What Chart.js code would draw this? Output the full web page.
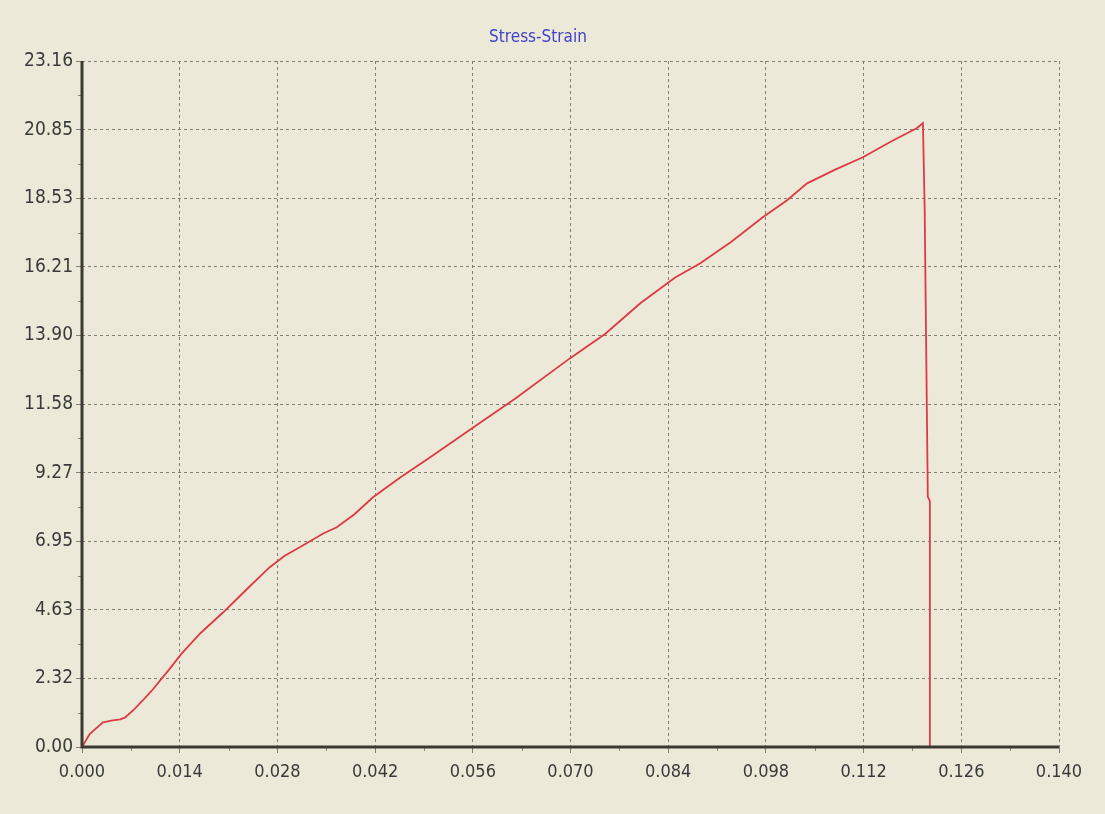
<!DOCTYPE html>
<html>
<head>
<meta charset="utf-8">
<title>Stress-Strain</title>
<script src="https://cdn.jsdelivr.net/npm/chart.js@4/dist/chart.umd.min.js"></script>
<style>
    html, body { margin: 0; padding: 0; background: #ece9d8; }
    #wrap { width: 1105px; height: 814px; position: relative; }
</style>
</head>
<body>
<div id="wrap"><canvas id="stressChart" width="1105" height="814"></canvas></div>
<script>
// Stress-strain curve, values
const strain = [
    0, 0.0011, 0.0030, 0.0044, 0.0055, 0.0062, 0.0075, 0.0087, 0.0100, 0.0112,
    0.0125, 0.0143, 0.0170, 0.0202, 0.0235, 0.0269, 0.0290, 0.0317, 0.0345, 0.0365,
    0.0390, 0.0417, 0.0456, 0.0500, 0.0559, 0.0620, 0.0699, 0.0750, 0.0800, 0.0850,
    0.0886, 0.0930, 0.0976, 0.1010, 0.1039, 0.1080, 0.1119, 0.1160, 0.1196, 0.1205,
    0.12075, 0.1212, 0.1215, 0.1215
];
const stress = [
    0, 0.44, 0.83, 0.90, 0.93, 1.00, 1.28, 1.57, 1.90, 2.25,
    2.62, 3.16, 3.85, 4.54, 5.30, 6.07, 6.45, 6.81, 7.20, 7.42,
    7.85, 8.43, 9.10, 9.80, 10.76, 11.75, 13.12, 13.95, 14.98, 15.85,
    16.33, 17.05, 17.89, 18.45, 19.03, 19.50, 19.91, 20.45, 20.89, 21.06,
    18.20, 8.45, 8.30, 0
];

// Axis ticks as printed on the chart
const xTicks = [0, 0.014, 0.028, 0.042, 0.056, 0.070, 0.084, 0.098, 0.112, 0.126, 0.140];
const xTickLabels = ['0.000', '0.014', '0.028', '0.042', '0.056', '0.070', '0.084', '0.098', '0.112', '0.126', '0.140'];
const yTicks = [0, 2.316, 4.632, 6.948, 9.264, 11.58, 13.896, 16.212, 18.528, 20.844, 23.16];
const yTickLabels = ['0.00', '2.32', '4.63', '6.95', '9.27', '11.58', '13.90', '16.21', '18.53', '20.85', '23.16'];

const chartTitle = 'Stress-Strain';
const fontFamily = '"DejaVu Sans Condensed", "Liberation Sans", Arial, sans-serif';

document.addEventListener('DOMContentLoaded', () => {
    drawChart();
});

// Background, title, solid left/bottom axes and minor tick marks
const framePlugin = {
    id: 'frame',
    beforeDraw(chart) {
        const ctx = chart.ctx;
        ctx.save();
        ctx.fillStyle = '#ece9d8';
        ctx.fillRect(0, 0, chart.width, chart.height);
        ctx.restore();
    },
    afterDraw(chart) {
        const ctx = chart.ctx;
        const area = chart.chartArea;
        const xScale = chart.scales.x;
        const yScale = chart.scales.y;
        ctx.save();

        // Minor ticks halfway between the major ones
        ctx.strokeStyle = '#8a8a80';
        ctx.lineWidth = 1;
        ctx.beginPath();
        for (let i = 0; i < yTicks.length - 1; i++) {
            const py = Math.round(yScale.getPixelForValue((yTicks[i] + yTicks[i + 1]) / 2)) + 0.5;
            ctx.moveTo(area.left - 4, py);
            ctx.lineTo(area.left, py);
        }
        for (let i = 0; i < xTicks.length - 1; i++) {
            const px = Math.round(xScale.getPixelForValue((xTicks[i] + xTicks[i + 1]) / 2)) + 0.5;
            ctx.moveTo(px, area.bottom);
            ctx.lineTo(px, area.bottom + 4);
        }
        ctx.stroke();

        // Solid axes
        ctx.strokeStyle = '#3a3a32';
        ctx.lineWidth = 3;
        ctx.beginPath();
        ctx.moveTo(area.left, area.top);
        ctx.lineTo(area.left, area.bottom);
        ctx.lineTo(area.right, area.bottom);
        ctx.stroke();

        // Title
        ctx.fillStyle = '#4242cc';
        ctx.font = '17px ' + fontFamily;
        ctx.textAlign = 'center';
        ctx.textBaseline = 'middle';
        ctx.fillText(chartTitle, 538, 38);
        ctx.restore();
    }
};

function drawChart() {
    const ctx = document.getElementById('stressChart');
    const points = strain.map((x, i) => ({ x: x, y: stress[i] }));

    new Chart(ctx, {
        type: 'scatter',
        data: {
            datasets: [{
                data: points,
                showLine: true,
                borderColor: 'rgb(222, 58, 70)',
                borderWidth: 1.8,
                pointRadius: 0,
                tension: 0
            }]
        },
        options: {
            responsive: false,
            animation: false,
            layout: { padding: { left: 0, top: 61, right: 46, bottom: 22 } },
            plugins: {
                legend: { display: false },
                tooltip: { enabled: false }
            },
            scales: {
                x: {
                    type: 'linear',
                    min: 0,
                    max: 0.14,
                    afterBuildTicks: scale => { scale.ticks = xTicks.map(v => ({ value: v })); },
                    afterFit: scale => { scale.height = 45; },
                    border: { display: false, dash: [3, 3] },
                    grid: {
                        color: '#7e7e72',
                        lineWidth: 1,
                        tickLength: 6
                    },
                    ticks: {
                        color: '#3a3a3a',
                        font: { family: fontFamily, size: 18 },
                        padding: 9,
                        maxRotation: 0,
                        autoSkip: false,
                        callback: (value, index) => xTickLabels[index]
                    }
                },
                y: {
                    type: 'linear',
                    min: 0,
                    max: 23.16,
                    afterBuildTicks: scale => { scale.ticks = yTicks.map(v => ({ value: v })); },
                    afterFit: scale => { scale.width = 82; },
                    border: { display: false, dash: [3, 3] },
                    grid: {
                        color: '#7e7e72',
                        lineWidth: 1,
                        tickLength: 6
                    },
                    ticks: {
                        color: '#3a3a3a',
                        font: { family: fontFamily, size: 19 },
                        padding: 3,
                        autoSkip: false,
                        callback: (value, index) => yTickLabels[index]
                    }
                }
            }
        },
        plugins: [framePlugin]
    });
}
</script>
</body>
</html>
